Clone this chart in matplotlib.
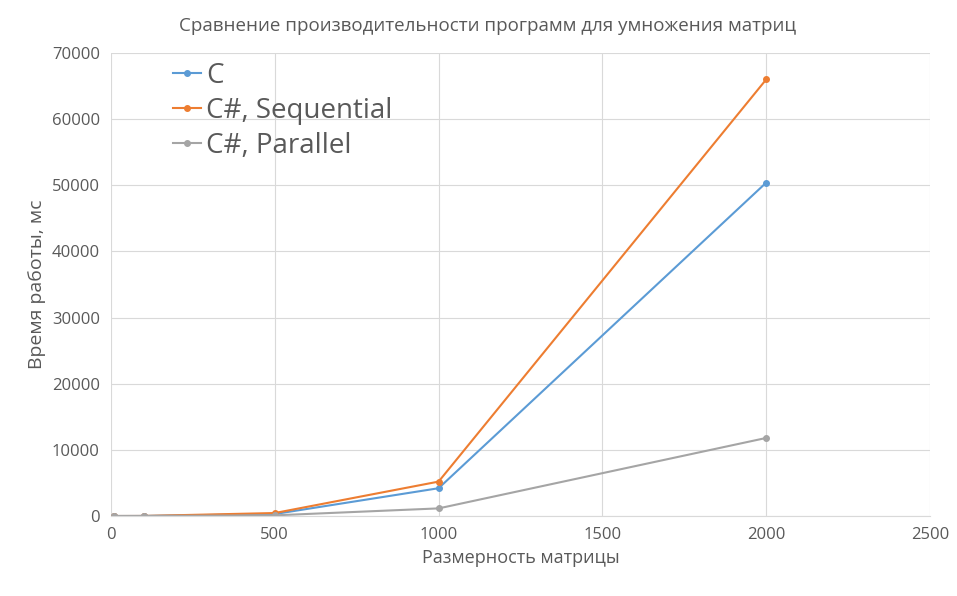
import matplotlib.pyplot as plt

sizes = [10, 100, 500, 1000, 2000]
c_times = [0, 5, 300, 4200, 50400]
cs_seq_times = [0, 8, 450, 5200, 66000]
cs_par_times = [0, 3, 100, 1150, 11800]

plt.rcParams['font.family'] = ['Open Sans', 'DejaVu Sans']
fig = plt.figure(figsize=(9.57, 5.96), dpi=100)
ax = fig.add_axes([111/957, 1 - 516/596, (930-111)/957, (516-53)/596])

ax.plot(sizes, c_times, color='#5b9bd5', marker='o', ms=4, lw=1.5, label='C')
ax.plot(sizes, cs_seq_times, color='#ed7d31', marker='o', ms=4, lw=1.5, label='C#, Sequential')
ax.plot(sizes, cs_par_times, color='#a5a5a5', marker='o', ms=4, lw=1.5, label='C#, Parallel')

ax.set_xlim(0, 2500)
ax.set_ylim(0, 70000)
ax.set_xticks(range(0, 2501, 500))
ax.set_yticks(range(0, 70001, 10000))
ax.grid(True, color='#d9d9d9', lw=0.8)
for s in ax.spines.values():
    s.set_visible(False)
ax.spines['bottom'].set_visible(True)
ax.spines['bottom'].set_color('#d9d9d9')
ax.tick_params(length=0, labelsize=12, colors='#595959', pad=8)

ax.set_xlabel('Размерность матрицы', fontsize=13, color='#595959')
ax.set_ylabel('Время работы, мс', fontsize=14, color='#595959')
ax.set_title('Сравнение производительности программ для умножения матриц',
             fontsize=13.5, color='#595959', pad=16, x=0.46)

leg = ax.legend(loc='upper left', bbox_to_anchor=(0.045, 1.035), frameon=False,
                fontsize=20, handlelength=1.0, handletextpad=0.2, labelspacing=0.25)
for t in leg.get_texts():
    t.set_color('#595959')

fig.savefig('out.png')
